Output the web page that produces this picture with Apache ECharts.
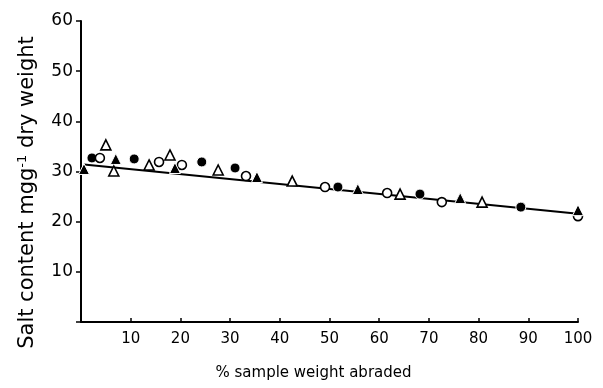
<!DOCTYPE html>
<html>
<head>
<meta charset="utf-8">
<script src="https://cdn.jsdelivr.net/npm/echarts@6/dist/echarts.min.js"></script>
<style>
  html, body { margin: 0; padding: 0; background: #fff; }
  #chart { width: 603px; height: 388px; }
</style>
</head>
<body>
<div id="chart"></div>
<script>
// values (x = % sample weight abraded, y = salt content)
const filledCircleX = [2.2, 10.7, 24.3, 31.0, 51.7, 68.2, 88.5];
const filledCircleY = [32.7, 32.5, 31.9, 30.7, 26.9, 25.5, 22.9];
const openCircleX = [3.8, 15.7, 20.3, 33.2, 49.1, 61.6, 72.6, 100];
const openCircleY = [32.7, 31.9, 31.3, 29.1, 26.9, 25.7, 23.9, 21.1];
const filledTriX = [0.6, 7.0, 18.9, 35.4, 55.7, 76.3, 100];
const filledTriY = [30.5, 32.5, 30.7, 28.9, 26.5, 24.7, 22.3];
const openTriX = [5.0, 6.6, 13.7, 17.9, 27.6, 42.5, 64.2, 80.7];
const openTriY = [35.3, 30.1, 31.3, 33.3, 30.3, 28.1, 25.5, 23.9];
const fitX = [0.6, 100];
const fitY = [31.4, 21.6];

const xTicks = [10, 20, 30, 40, 50, 60, 70, 80, 90, 100];
const yTicks = [10, 20, 30, 40, 50, 60];

const FONT = "DejaVu Sans";
const pairs = (xs, ys) => xs.map((x, i) => [x, ys[i]]);

function markers(xs, ys, symbol, filled, size) {
  return {
    type: "scatter",
    data: pairs(xs, ys),
    symbol,
    symbolSize: size,
    z: 5,
    itemStyle: filled
      ? { color: "#000", borderColor: "#fff", borderWidth: 1, opacity: 1 }
      : { color: "#fff", borderColor: "#000", borderWidth: 1.6, opacity: 1 },
    silent: true,
  };
}

const chart = echarts.init(document.getElementById("chart"));
chart.setOption({
  backgroundColor: "#fff",
  animation: false,
  grid: { left: 81, right: 25, top: 21, bottom: 66 },
  xAxis: {
    type: "value",
    min: 0,
    max: 100,
    interval: 10,
    name: "% sample weight abraded",
    nameLocation: "middle",
    nameGap: 44,
    nameTextStyle: { fontFamily: FONT, fontSize: 15, color: "#000", padding: [0, 32, 0, 0] },
    axisLine: { lineStyle: { color: "#000", width: 2 } },
    axisTick: { inside: true, length: 4, lineStyle: { color: "#000", width: 1.5 } },
    axisLabel: {
      fontFamily: FONT, fontSize: 15, color: "#000", margin: 10,
      formatter: (v) => (xTicks.includes(v) ? String(v) : ""),
    },
    splitLine: { show: false },
  },
  yAxis: {
    type: "value",
    min: 0,
    max: 60,
    interval: 10,
    name: "Salt content mgg{sup|-1} dry weight",
    nameLocation: "middle",
    nameGap: 42,
    nameRotate: 90,
    nameTextStyle: {
      fontFamily: FONT, fontSize: 21, color: "#000", padding: [0, 42, 0, 0],
      rich: { sup: { fontFamily: FONT, fontSize: 13, color: "#000", verticalAlign: "top", padding: [0, 0, 10, 0] } },
    },
    axisLine: { lineStyle: { color: "#000", width: 2 } },
    axisTick: { length: 5, lineStyle: { color: "#000", width: 1.5 } },
    axisLabel: {
      fontFamily: FONT, fontSize: 17, color: "#000", margin: 8,
      formatter: (v) => (yTicks.includes(v) ? String(v) : ""),
    },
    splitLine: { show: false },
  },
  series: [
    {
      type: "line",
      data: pairs(fitX, fitY),
      symbol: "none",
      lineStyle: { color: "#000", width: 2 },
      z: 2,
      silent: true,
    },
    markers(filledCircleX, filledCircleY, "circle", true, 10),
    markers(openCircleX, openCircleY, "circle", false, 9),
    markers(filledTriX, filledTriY, "triangle", true, 11),
    markers(openTriX, openTriY, "triangle", false, 10),
  ],
});
</script>
</body>
</html>
